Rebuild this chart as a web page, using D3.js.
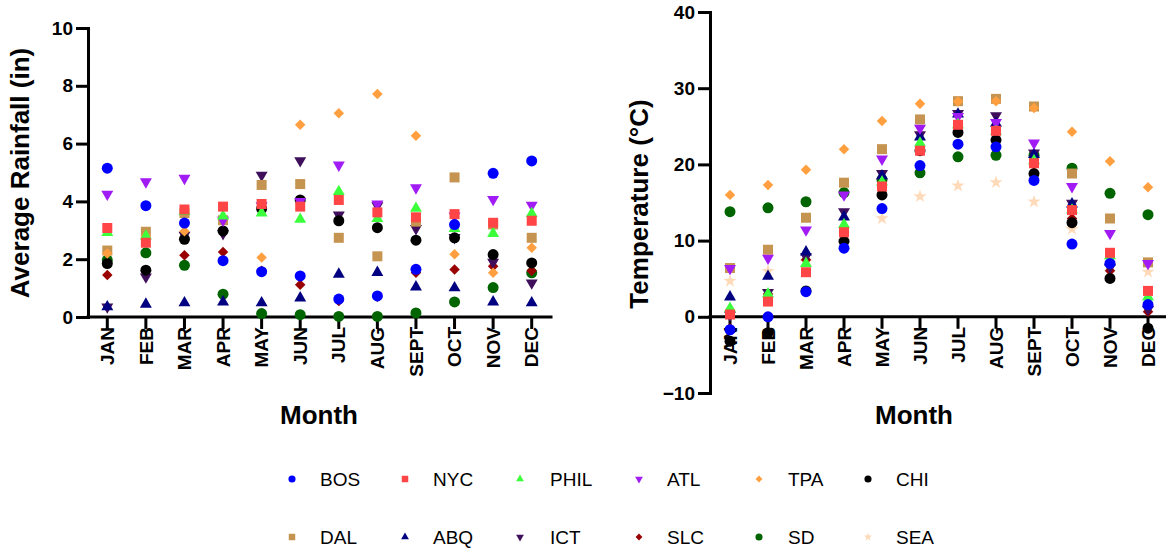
<!DOCTYPE html>
<html>
<head>
<meta charset="utf-8">
<script src="https://cdn.jsdelivr.net/npm/d3@7"></script>
<style>
  html, body { margin: 0; padding: 0; background: #fff; }
  svg { display: block; font-family: "Liberation Sans", Arial, Helvetica, sans-serif; }
</style>
</head>
<body>
<svg id="chart" width="1166" height="550"></svg>
<script>
// ---------------- DATA ----------------
const months = ["JAN","FEB","MAR","APR","MAY","JUN","JUL","AUG","SEPT","OCT","NOV","DEC"];
const cities = ["BOS","NYC","PHIL","ATL","TPA","CHI","DAL","ABQ","ICT","SLC","SD","SEA"];
const cityColors = ["#0000ff","#ff4545","#3cff3c","#a11bf5","#ff9f40","#000000",
                    "#c59450","#000080","#3f0f5c","#990000","#006400","#ffdab9"];
const cityShapes = ["circle","square","triangleUp","triangleDown","diamond","circle",
                    "square","triangleUp","triangleDown","diamond","circle","star"];

// Average rainfall (in)
const rainBOS  = [5.15,3.85,3.25,1.95,1.57,1.42,0.62,0.73,1.65,3.20,4.97,5.40];
const rainNYC  = [3.08,2.57,3.72,3.82,3.91,3.82,4.05,3.62,3.45,3.56,3.26,3.33];
const rainPHIL = [2.92,2.80,3.65,3.49,3.60,3.38,4.34,3.41,3.76,3.06,2.89,3.58];
const rainATL  = [4.25,4.68,4.80,3.35,3.85,4.00,5.26,3.91,4.47,3.50,4.07,3.87];
const rainTPA  = [2.20,2.80,2.97,3.40,2.06,6.65,7.05,7.72,6.27,2.17,1.53,2.40];
const rainCHI  = [1.85,1.62,2.69,2.98,3.75,4.05,3.33,3.09,2.66,2.74,2.16,1.87];
const rainDAL  = [2.30,2.95,3.60,3.35,4.57,4.60,2.74,2.10,3.30,4.83,3.20,2.74];
const rainABQ  = [0.35,0.44,0.49,0.52,0.49,0.66,1.48,1.54,1.04,1.01,0.52,0.49];
const rainICT  = [0.35,1.39,2.83,2.89,4.91,5.41,3.53,3.85,3.06,2.75,1.90,1.18];
const rainSLC  = [1.45,1.60,2.14,2.25,1.60,1.12,0.55,0.70,1.53,1.64,1.76,1.60];
const rainSD   = [1.97,2.22,1.79,0.79,0.12,0.08,0.02,0.02,0.14,0.52,1.02,1.53];
const rainSEA  = [null,null,null,null,null,null,null,null,null,null,null,null];

// Temperature (°C)
const tempBOS  = [-1.7,0.0,3.3,9.0,14.2,19.85,22.65,22.3,17.9,9.55,7.0,1.6];
const tempNYC  = [0.3,2.0,5.85,11.1,17.1,21.8,25.2,24.4,20.15,14.0,8.4,3.4];
const tempPHIL = [1.1,3.0,7.0,12.1,17.7,22.8,25.2,24.3,20.5,14.0,8.0,2.6];
const tempATL  = [6.35,7.7,11.4,16.0,20.7,24.75,26.3,25.5,22.8,17.1,10.95,7.0];
const tempTPA  = [16.0,17.3,19.3,22.0,25.7,27.95,28.26,28.3,27.4,24.3,20.4,17.0];
const tempCHI  = [-3.2,-2.1,3.4,9.9,16.0,21.8,24.2,23.2,18.8,12.35,5.04,-1.5];
const tempDAL  = [6.4,8.8,13.0,17.6,22.0,25.9,28.3,28.6,27.6,18.8,12.9,7.14];
const tempABQ  = [2.6,5.3,8.5,13.1,18.5,23.6,26.6,25.4,21.3,14.8,7.2,1.7];
const tempICT  = [0.2,3.2,7.9,13.8,18.8,23.9,26.7,26.4,21.5,14.9,6.5,1.0];
const tempSLC  = [-1.5,3.0,7.5,11.0,17.0,22.0,25.3,24.5,20.0,12.9,6.05,0.66];
const tempSD   = [13.8,14.3,15.1,16.3,18.0,18.9,21.0,21.2,21.2,19.5,16.2,13.4];
const tempSEA  = [4.7,6.0,7.2,9.9,12.9,15.8,17.2,17.65,15.1,11.5,7.0,5.9];

const rainTicks = [0,2,4,6,8,10];
const tempTicks = [-10,0,10,20,30,40];

const rainSeries = [rainBOS,rainNYC,rainPHIL,rainATL,rainTPA,rainCHI,rainDAL,rainABQ,rainICT,rainSLC,rainSD,rainSEA];
const tempSeries = [tempBOS,tempNYC,tempPHIL,tempATL,tempTPA,tempCHI,tempDAL,tempABQ,tempICT,tempSLC,tempSD,tempSEA];

// ---------------- SYMBOLS ----------------
const shapeTypes = {
  circle: d3.symbolCircle,
  square: d3.symbolSquare,
  triangleUp: { draw(ctx, size) {
    const s = Math.sqrt(size * 4 / Math.sqrt(3)); const h = s * Math.sqrt(3) / 2;
    ctx.moveTo(0, -h * 2 / 3); ctx.lineTo(s / 2, h / 3); ctx.lineTo(-s / 2, h / 3); ctx.closePath(); } },
  triangleDown: { draw(ctx, size) {
    const s = Math.sqrt(size * 4 / Math.sqrt(3)); const h = s * Math.sqrt(3) / 2;
    ctx.moveTo(0, h * 2 / 3); ctx.lineTo(s / 2, -h / 3); ctx.lineTo(-s / 2, -h / 3); ctx.closePath(); } },
  diamond: { draw(ctx, size) {
    const r = Math.sqrt(size / 2);
    ctx.moveTo(0, -r); ctx.lineTo(r, 0); ctx.lineTo(0, r); ctx.lineTo(-r, 0); ctx.closePath(); } },
  star: d3.symbolStar
};
const shapeSize = { circle: 95, square: 100, triangleUp: 62, triangleDown: 62, diamond: 55, star: 55 };

// ---------------- DRAW ----------------
const svg = d3.select("#chart");
const font = '"Liberation Sans", Arial, Helvetica, sans-serif';

function styleAxis(g) {
  g.selectAll("path.domain").attr("stroke", "#000").attr("stroke-width", 3).attr("stroke-linecap", "square");
  g.selectAll(".tick line").attr("stroke", "#000").attr("stroke-width", 3);
  g.selectAll(".tick text").attr("fill", "#000").style("font-family", font)
    .style("font-weight", "bold");
}

function panel(cfg) {
  const x = d3.scaleBand(months, cfg.xRange);
  const y = d3.scaleLinear(cfg.yDomain, cfg.yRange);
  const x0 = cfg.xRange[0] - cfg.yAxisInset;

  // y axis
  const gy = svg.append("g").attr("transform", `translate(${x0},0)`)
    .call(d3.axisLeft(y).tickValues(cfg.ticks).tickSize(12).tickSizeOuter(0).tickPadding(3).tickFormat(d3.format("d")));
  styleAxis(gy);
  gy.selectAll(".tick text").style("font-size", "19px");

  // x axis at y=0
  const gx = svg.append("g").attr("transform", `translate(0,${y(0)})`)
    .call(d3.axisBottom(x).tickSize(12).tickSizeOuter(0));
  styleAxis(gx);
  gx.select("path.domain").attr("d", `M${x0},0H${cfg.xRange[1]}`);
  gx.selectAll(".tick text")
    .attr("transform", "rotate(-90)")
    .attr("x", -10).attr("y", 0).attr("dy", "0.35em")
    .style("text-anchor", "end").style("font-size", "19px");

  // titles
  svg.append("text")
    .attr("transform", `translate(${cfg.yTitleX},${cfg.yTitleY}) rotate(-90)`)
    .attr("text-anchor", "middle")
    .style("font-family", font).style("font-weight", "bold").style("font-size", "26px")
    .text(cfg.yTitle);
  svg.append("text")
    .attr("x", cfg.xTitleX).attr("y", 424)
    .attr("text-anchor", "middle")
    .style("font-family", font).style("font-weight", "bold").style("font-size", "26px")
    .text("Month");

  // points: later series drawn first so earlier series sit on top
  for (let i = cities.length - 1; i >= 0; i--) {
    const vals = cfg.series[i];
    const pts = months.map((m, j) => ({ m, v: vals[j] })).filter(d => d.v !== null && d.v !== undefined);
    const shape = cityShapes[i];
    const sym = d3.symbol().type(shapeTypes[shape]).size(shapeSize[shape]);
    svg.append("g").selectAll("path").data(pts).join("path")
      .attr("transform", d => `translate(${x(d.m) + x.bandwidth() / 2},${y(d.v)})`)
      .attr("d", sym)
      .attr("fill", cityColors[i]);
  }
}

panel({
  xRange: [88, 551], yAxisInset: 0, yDomain: [0, 10], yRange: [317, 28],
  ticks: rainTicks, series: rainSeries,
  yTitle: "Average Rainfall (in)", yTitleX: 29, yTitleY: 173, xTitleX: 319
});
panel({
  xRange: [711, 1167], yAxisInset: 1, yDomain: [-10, 40], yRange: [393, 12],
  ticks: tempTicks, series: tempSeries,
  yTitle: "Temperature (°C)", yTitleX: 648, yTitleY: 204, xTitleX: 914
});

// ---------------- LEGEND ----------------
const legSymX = [292, 405, 520, 639, 759, 868];
const legTextX = [320, 433, 550, 667, 788, 896];
const legRowY = [479, 537];
cities.forEach((c, i) => {
  const col = i % 6, row = Math.floor(i / 6);
  const shape = cityShapes[i];
  svg.append("path")
    .attr("transform", `translate(${legSymX[col]},${legRowY[row]})`)
    .attr("d", d3.symbol().type(shapeTypes[shape]).size(shapeSize[shape] * 0.42))
    .attr("fill", cityColors[i]);
  svg.append("text")
    .attr("x", legTextX[col]).attr("y", legRowY[row]).attr("dy", "0.35em")
    .style("font-family", font).style("font-size", "19px")
    .text(c);
});
</script>
</body>
</html>
